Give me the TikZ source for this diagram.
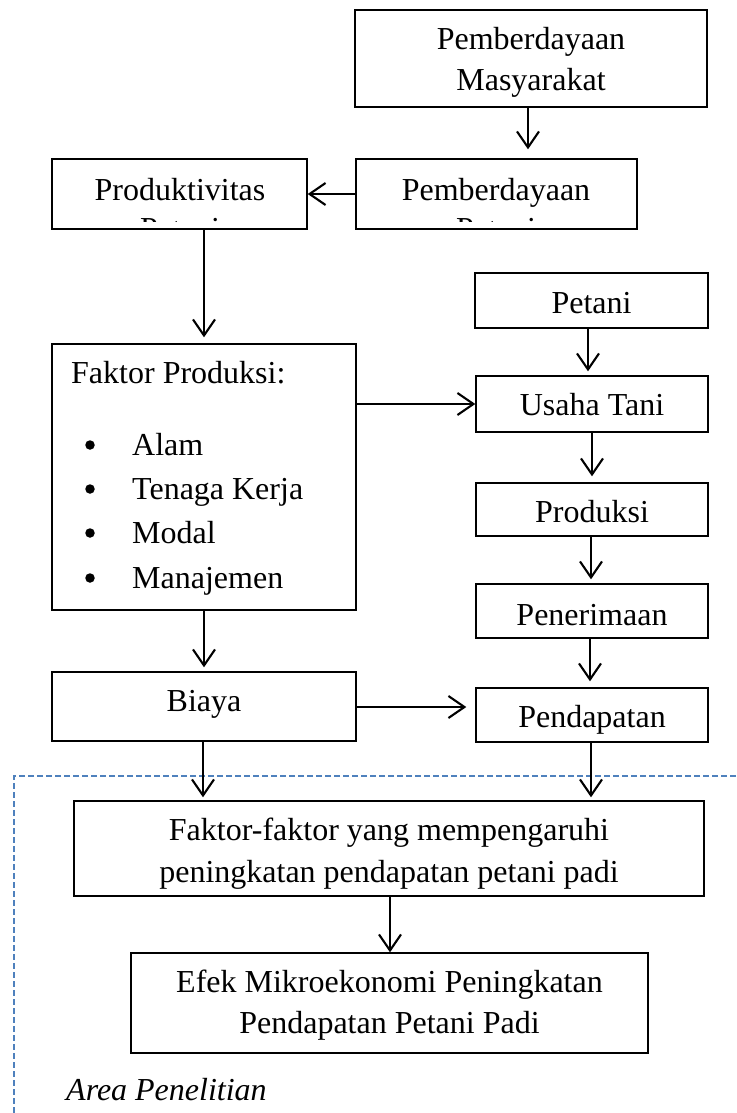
\documentclass[tikz,border=0pt]{standalone}
\usepackage{fontspec}
\setmainfont{Liberation Serif}
\usetikzlibrary{arrows.meta}
\begin{document}
\begin{tikzpicture}[x=1pt,y=-1pt,
  box/.style={draw=black, line width=1.4pt, inner sep=0pt, fill=none},
  txt/.style={inner sep=0pt, font=\fontsize{32}{40}\selectfont, anchor=base},
  dot/.style={circle, fill=black, inner sep=0pt, minimum size=9.5pt},
  arr/.style={line width=2.1pt, -{Straight Barb[length=16pt,width=22pt]}},
  area/.style={draw={rgb,255:red,79;green,129;blue,189}, line width=1.3pt, dash pattern=on 6pt off 3pt}]
\fill[white] (0,0) rectangle (736,1113);
\useasboundingbox (0,0) rectangle (736,1113);

% boxes
\node[box, minimum width=352pt, minimum height=97pt] (pm) at (531,58.5) {};
\node[box, minimum width=255pt, minimum height=70pt] (prod) at (179.5,194) {};
\node[box, minimum width=281pt, minimum height=70pt] (pp) at (496.5,194) {};
\node[box, minimum width=233pt, minimum height=55pt] (petani) at (591.5,300.5) {};
\node[box, minimum width=304pt, minimum height=266pt] (fp) at (204,477) {};
\node[box, minimum width=232pt, minimum height=56pt] (ut) at (592,404) {};
\node[box, minimum width=232pt, minimum height=53pt] (prd) at (592,509.5) {};
\node[box, minimum width=232pt, minimum height=54pt] (pen) at (592,611) {};
\node[box, minimum width=232pt, minimum height=54pt] (pend) at (592,715) {};
\node[box, minimum width=304pt, minimum height=69pt] (biaya) at (204,706.5) {};
\node[box, minimum width=630pt, minimum height=95pt] (ff) at (389,848.5) {};
\node[box, minimum width=517pt, minimum height=100pt] (efek) at (389.5,1003) {};

% texts
\node[txt] (t-pm1) at (531,50) {Pemberdayaan};
\node[txt] (t-pm2) at (531,91) {Masyarakat};
\node[txt] (t-prod1) at (180,200) {Produktivitas};
\node[txt] (t-pp1) at (496,200) {Pemberdayaan};
\begin{scope}
  \clip (prod.north west) rectangle (prod.east |- 0,221);
  \node[txt] (t-prod2) at (180,239) {Petani};
\end{scope}
\begin{scope}
  \clip (pp.north west) rectangle (pp.east |- 0,221);
  \node[txt] (t-pp2) at (496,239) {Petani};
\end{scope}
\node[txt] (t-petani) at (591.5,313) {Petani};
\node[txt, anchor=base west] (t-fp) at (71,383) {Faktor Produksi:};
\foreach \y/\t [count=\i] in {455/Alam, 499/Tenaga Kerja, 543/Modal, 588/Manajemen}{
  \node[dot] (b\i) at (90,\y-10) {};
  \node[txt, anchor=base west] (item\i) at (132,\y) {\t};
}
\node[txt] (t-ut) at (592,415) {Usaha Tani};
\node[txt] (t-prd) at (592,522) {Produksi};
\node[txt] (t-pen) at (592,625) {Penerimaan};
\node[txt] (t-pend) at (592,727) {Pendapatan};
\node[txt] (t-biaya) at (204,711) {Biaya};
\node[txt] (t-ff1) at (389,840) {Faktor-faktor yang mempengaruhi};
\node[txt] (t-ff2) at (389,882) {peningkatan pendapatan petani padi};
\node[txt] (t-ef1) at (389.5,992) {Efek Mikroekonomi Peningkatan};
\node[txt] (t-ef2) at (389.5,1033) {Pendapatan Petani Padi};

% research area
\draw[area] (745,776) -- (14,776) -- (14,1125);
\node[txt, anchor=base west, font=\fontsize{32}{40}\selectfont\itshape] (t-area) at (66,1100) {Area Penelitian};

% connectors
\draw[arr, shorten >=9pt] (pm.south -| 528,0) -- (pp.north -| 528,0);
\draw[arr] (pp.west) -- (prod.east);
\draw[arr, shorten >=6pt] (prod.south -| fp.north) -- (fp.north);
\draw[arr, shorten >=4pt] (petani.south -| 588,0) -- (ut.north -| 588,0);
\draw[arr] (fp.east |- ut.west) -- (ut.west);
\draw[arr, shorten >=6pt] (ut.south -| 592,0) -- (prd.north -| 592,0);
\draw[arr, shorten >=4pt] (prd.south -| 591,0) -- (pen.north -| 591,0);
\draw[arr, shorten >=6pt] (pen.south -| 590,0) -- (pend.north -| 590,0);
\draw[arr, shorten >=4pt] (fp.south) -- (biaya.north);
\draw[arr, shorten >=9pt] (biaya.east |- 0,707) -- (pend.west |- 0,707);
\draw[arr, shorten >=3pt] (biaya.south -| 203,0) -- (ff.north -| 203,0);
\draw[arr, shorten >=3pt] (pend.south -| 591,0) -- (ff.north -| 591,0);
\draw[arr] (ff.south -| 390,0) -- (efek.north -| 390,0);
\end{tikzpicture}
\end{document}
